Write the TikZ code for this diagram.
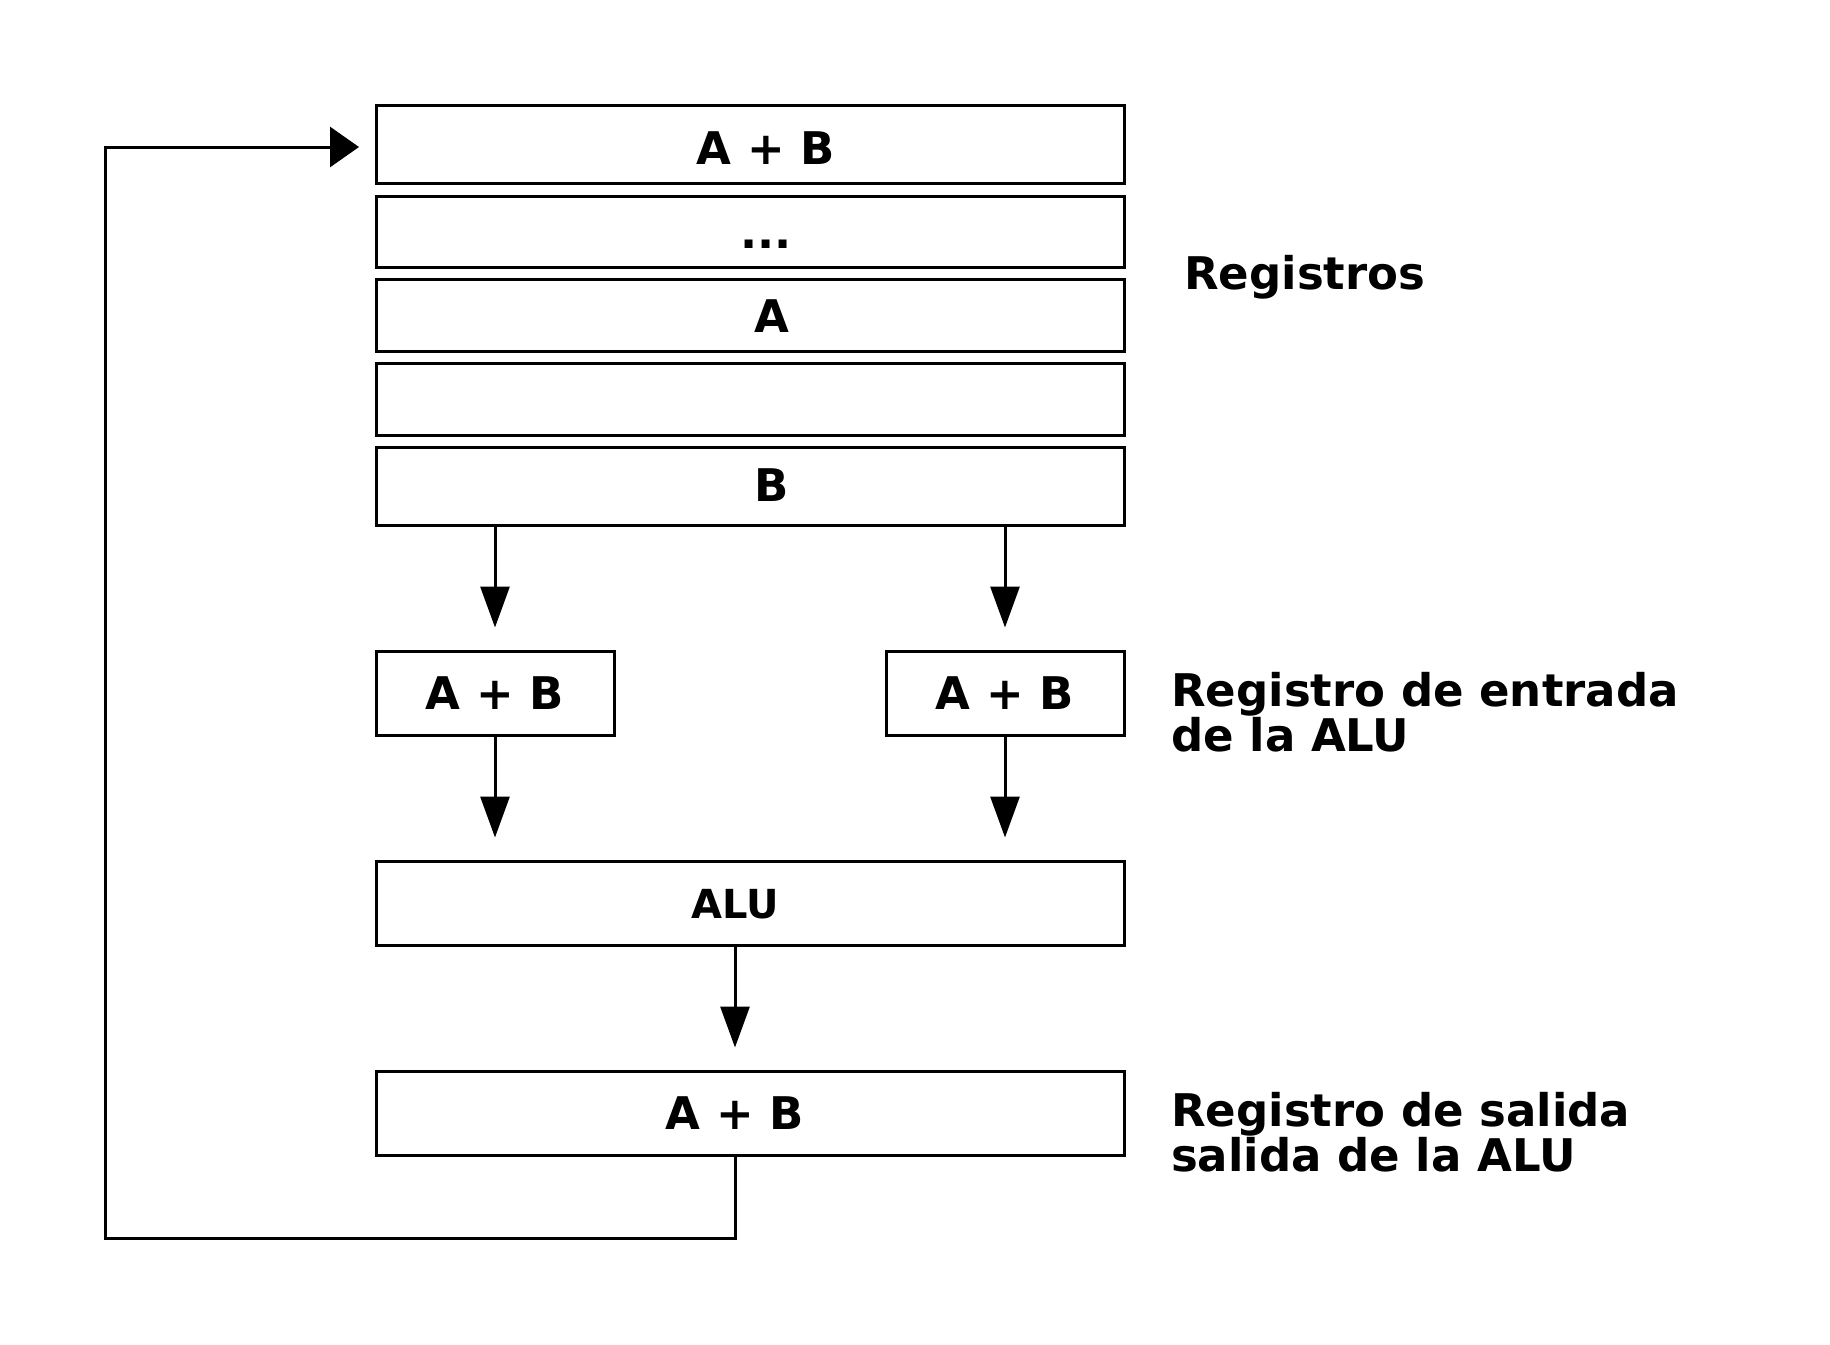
\documentclass[tikz,border=0pt]{standalone}
\usepackage{fontspec}
\setmainfont{DejaVu Sans}
\usetikzlibrary{arrows.meta}
\begin{document}
\begin{tikzpicture}[x=1pt,y=-1pt,
  regbox/.style={draw=black,line width=3pt,rectangle,inner sep=0pt,minimum width=748pt,minimum height=#1},
  smallbox/.style={draw=black,line width=3pt,rectangle,inner sep=0pt,minimum width=238pt,minimum height=84pt},
  boxtext/.style={inner sep=0pt,anchor=base,font=\fontsize{45}{54}\selectfont\bfseries},
  alutext/.style={inner sep=0pt,anchor=base,font=\fontsize{40}{48}\selectfont\bfseries},
  sidelabel/.style={inner sep=0pt,anchor=base west,align=left,font=\fontsize{45}{41}\selectfont\bfseries},
  conn/.style={line width=3pt,line join=miter},
  varr/.style={conn,-{Triangle[length=41pt,width=29pt]},shorten >=22pt},
  harr/.style={conn,-{Triangle[length=29pt,width=40pt]},shorten >=16pt}]
\useasboundingbox (0,0) rectangle (1830,1344);
\fill[white] (0,0) rectangle (1830,1344);
% register file
\node[regbox=78pt] (r1) at (750,144) {};
\node[regbox=71pt] (r2) at (750,231.5) {};
\node[regbox=72pt] (r3) at (750,315) {};
\node[regbox=72pt] (r4) at (750,399) {};
\node[regbox=78pt] (r5) at (750,486) {};
\node[boxtext] (t1) at (766,164) {A + B};
\node[boxtext] (t2) at (766,248) {...};
\node[boxtext] (t3) at (772,332) {A};
\node[boxtext] (t5) at (772,501) {B};
% ALU input registers
\node[smallbox] (il) at (495,693) {};
\node[smallbox] (ir) at (1005,693) {};
\node[boxtext] (til) at (495,709) {A + B};
\node[boxtext] (tir) at (1005,709) {A + B};
% ALU
\node[regbox=84pt] (alu) at (750,903) {};
\node[alutext] (talu) at (735,918) {ALU};
% output register
\node[regbox=84pt] (out) at (750,1113) {};
\node[boxtext] (tout) at (735,1129) {A + B};
% side labels
\node[sidelabel] (lreg) at (1184,289) {Registros};
\node[sidelabel] (lin) at (1171,751) {Registro de entrada\\de la ALU};
\node[sidelabel] (lout) at (1171,1171) {Registro de salida\\salida de la ALU};
% connectors
\draw[varr] (r5.south -| il) -- (il.north);
\draw[varr] (r5.south -| ir) -- (ir.north);
\draw[varr] (il.south) -- (alu.north -| il);
\draw[varr] (ir.south) -- (alu.north -| ir);
\draw[varr] (alu.south -| tout) -- (out.north -| tout);
\coordinate (lb) at (105,1238);
\coordinate (lt) at (105,147);
\coordinate (le) at (375,147);
\draw[harr] (out.south -| tout) |- (lb) -- (lt) -- (le);
\end{tikzpicture}
\end{document}
